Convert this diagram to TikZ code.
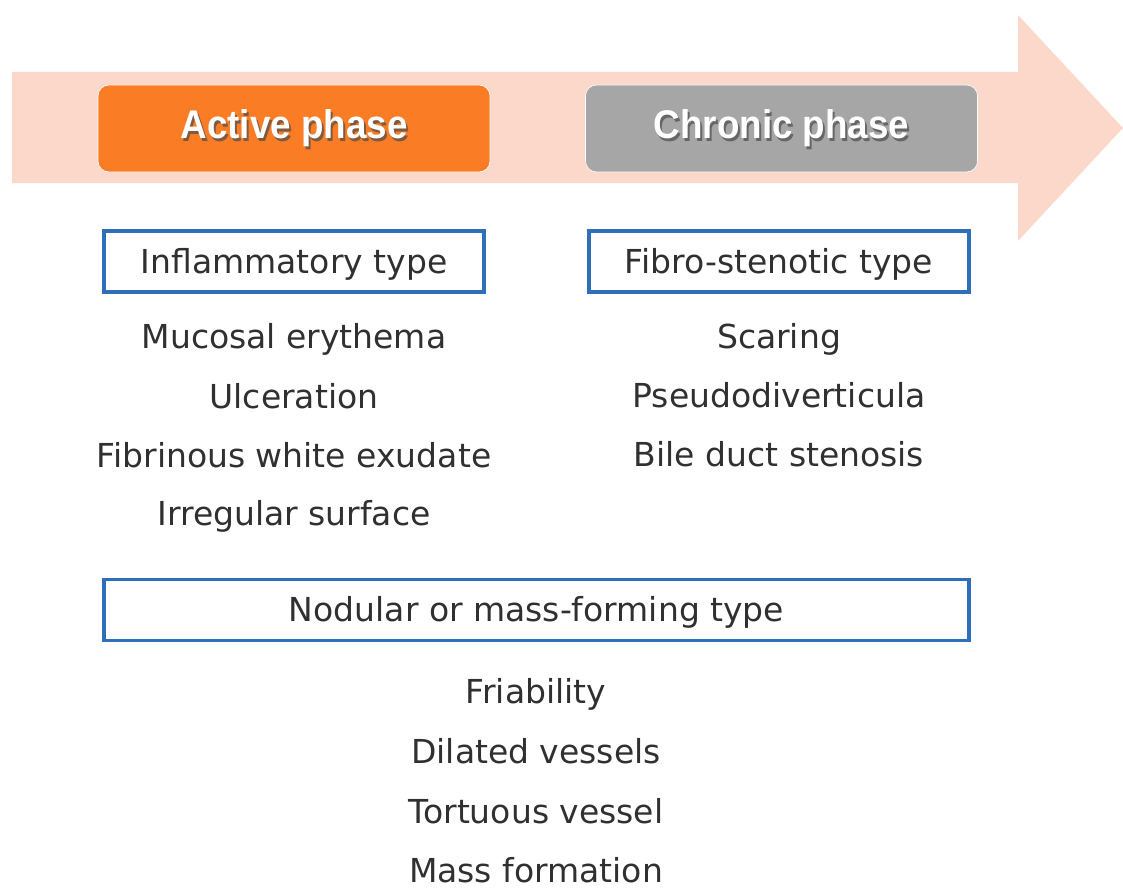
\documentclass[tikz,border=0pt]{standalone}
\usepackage{fontspec}
\setmainfont{DejaVu Sans}
\newfontfamily\phasefont{Liberation Sans}[BoldFont={Liberation Sans Bold}]
\definecolor{arrowpink}{HTML}{FCD8CB}
\definecolor{activeorange}{HTML}{FA7D25}
\definecolor{chronicgray}{HTML}{A6A6A6}
\definecolor{typeblue}{HTML}{2F6EB8}
\definecolor{txt}{HTML}{303030}
\tikzset{
  phasebox/.style={rounded corners=11pt, minimum width=392pt, minimum height=87pt, inner sep=0pt, draw=white, line width=0.6pt},
  phaselbl/.style={text=white, inner sep=0pt, font=\phasefont\bfseries\fontsize{40}{44}\selectfont, text height=30pt, text depth=9pt},
  phaseshadow/.style={phaselbl, text=black!70, opacity=0.7},
  typebox/.style={draw=typeblue, line width=3.2pt, fill=white, minimum height=61pt, inner sep=0pt, text=txt,
    font=\fontsize{33}{40}\selectfont, text height=28pt, text depth=5pt},
  item/.style={anchor=base, inner sep=0pt, text=txt, font=\fontsize{33}{40}\selectfont}
}
\begin{document}
\begin{tikzpicture}[x=1pt,y=-1pt]
\useasboundingbox (0,0) rectangle (1123,888);
% big arrow
\fill[arrowpink] (12,72) -- (1018,72) -- (1018,15) -- (1123,128) -- (1018,241) -- (1018,183) -- (12,183) -- cycle;
% phase boxes
\node[phasebox, fill=activeorange] (active) at (294,128.5) {};
\node[phaseshadow] (activesh) at (296,130.5) {\scalebox{0.92}[1]{Active phase}};
\node[phaselbl] (activelbl) at (active.center) {\scalebox{0.92}[1]{Active phase}};
\node[phasebox, fill=chronicgray] (chronic) at (781.5,128.5) {};
\node[phaseshadow] (chronicsh) at (783.5,130.5) {\scalebox{0.92}[1]{Chronic phase}};
\node[phaselbl] (chroniclbl) at (chronic.center) {\scalebox{0.92}[1]{Chronic phase}};
% type boxes
\node[typebox, minimum width=380pt] (infl) at (294,261.5) {Inflammatory type};
\node[typebox, minimum width=380pt] (fibro) at (779,261.5) {Fibro-stenotic type};
\node[typebox, minimum width=865pt] (nod) at (536.5,610) {Nodular or mass-forming type};
% left list
\node[item] (l1) at (294,348) {Mucosal erythema};
\node[item] (l2) at (294,408) {Ulceration};
\node[item] (l3) at (294,467) {Fibrinous white exudate};
\node[item] (l4) at (294,525) {Irregular surface};
% right list
\node[item] (r1) at (779,348) {Scaring};
\node[item] (r2) at (779,407) {Pseudodiverticula};
\node[item] (r3) at (779,466) {Bile duct stenosis};
% bottom list
\node[item] (b1) at (536,703) {Friability};
\node[item] (b2) at (536,763) {Dilated vessels};
\node[item] (b3) at (536,823) {Tortuous vessel};
\node[item] (b4) at (536,882) {Mass formation};
\end{tikzpicture}
\end{document}
